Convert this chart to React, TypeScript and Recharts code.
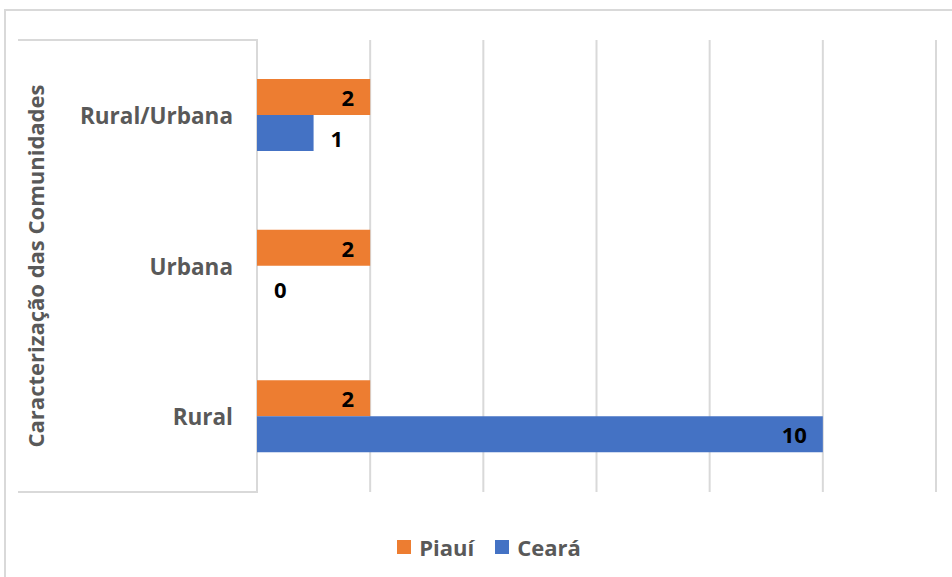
import React from "react";
import { BarChart, Bar, XAxis, YAxis, CartesianGrid, Legend, LabelList, Rectangle } from "recharts";

const categories = ["Rural/Urbana", "Urbana", "Rural"];
const piaui = [2, 2, 2];
const ceara = [1, 0, 10];
const xTicks = [0, 2, 4, 6, 8, 10, 12];
const seriesNames = ["Piauí", "Ceará"];
const seriesColors = ["#ED7D31", "#4472C4"];
const axisTitle = "Caracterização das Comunidades";

const data = categories.map((c, i) => ({ name: c, piaui: piaui[i], ceara: ceara[i] }));

const FONT = "'Open Sans', 'Liberation Sans', sans-serif";
const GRAY = "#595959";

const PiauiLabel = (props: any) => {
  const { x, y, width, height, value } = props;
  return (
    <text x={x + width - 16} y={y + height / 2} textAnchor="end" dominantBaseline="central"
      fontFamily={FONT} fontWeight={700} fontSize={22} fill="#000">{value}</text>
  );
};

const CearaShape = (props: any) => {
  const { x, y, width, height, fill } = props;
  const value = props.ceara ?? (props.payload ? props.payload.ceara : props.value);
  const inside = width > 80;
  return (
    <g>
      {width > 0 && <Rectangle x={x} y={y} width={width} height={height} fill={fill} />}
      <text x={inside ? x + width - 16 : x + width + 17} y={y + height / 2 + (inside ? 0 : 5)}
        textAnchor={inside ? "end" : "start"} dominantBaseline="central"
        fontFamily={FONT} fontWeight={700} fontSize={22} fill="#000">{value}</text>
    </g>
  );
};

const LegendContent = () => (
  <div style={{ display: "flex", justifyContent: "center", alignItems: "center", fontFamily: FONT, fontWeight: 700, fontSize: 22, color: GRAY, height: 27, paddingLeft: 26 }}>
    {seriesNames.map((n, i) => (
      <div key={n} style={{ display: "flex", alignItems: "center", marginRight: i === 0 ? 21 : 0 }}>
        <span style={{ display: "inline-block", width: 14, height: 14, background: seriesColors[i], marginRight: 8 }} />
        <span>{n}</span>
      </div>
    ))}
  </div>
);

const YTick = (props: any) => {
  const { x, y, payload } = props;
  return (
    <text x={x} y={y} textAnchor="end" dominantBaseline="central" fontFamily={FONT} fontWeight={700} fontSize={22.5} fill={GRAY}>
      {payload.value}
    </text>
  );
};

export default function App() {
  return (
    <div style={{ position: "absolute", left: 0, top: 0, width: 952, height: 577, background: "#fff", overflow: "hidden" }}>
      <div style={{ position: "absolute", left: 4, top: 9, width: 960, height: 600, border: "2px solid #d9d9d9", boxSizing: "border-box" }} />
      <div style={{ position: "absolute", left: 18, top: 39, width: 240, height: 454, borderTop: "2px solid #d9d9d9", borderBottom: "2px solid #d9d9d9", boxSizing: "border-box" }} />
      <div style={{ position: "absolute", left: 0, top: 0 }}>
        <BarChart width={952} height={577} data={data} layout="vertical"
          margin={{ top: 40, right: 16, bottom: 58, left: 0 }} barGap={0} barSize={36}>
          <CartesianGrid horizontal={false} stroke="#d9d9d9" strokeWidth={2} />
          <XAxis type="number" domain={[0, 12]} ticks={xTicks} hide />
          <YAxis type="category" dataKey="name" width={257} axisLine={false} tickLine={false}
            tick={<YTick />} tickMargin={18}
            label={{ value: axisTitle, angle: -90, position: "insideLeft", offset: 0, dx: 36,
              style: { textAnchor: "middle", fontFamily: FONT, fontWeight: 700, fontSize: 22, fill: GRAY } }} />
          <Legend verticalAlign="bottom" content={<LegendContent />} wrapperStyle={{ top: 533, left: 0, width: 952, height: 27 }} />
          <Bar dataKey="piaui" name={seriesNames[0]} fill={seriesColors[0]} isAnimationActive={false}>
            <LabelList dataKey="piaui" content={<PiauiLabel />} />
          </Bar>
          <Bar dataKey="ceara" name={seriesNames[1]} fill={seriesColors[1]} isAnimationActive={false}
            shape={(p: any) => <CearaShape {...p} />} />
        </BarChart>
      </div>
    </div>
  );
}
